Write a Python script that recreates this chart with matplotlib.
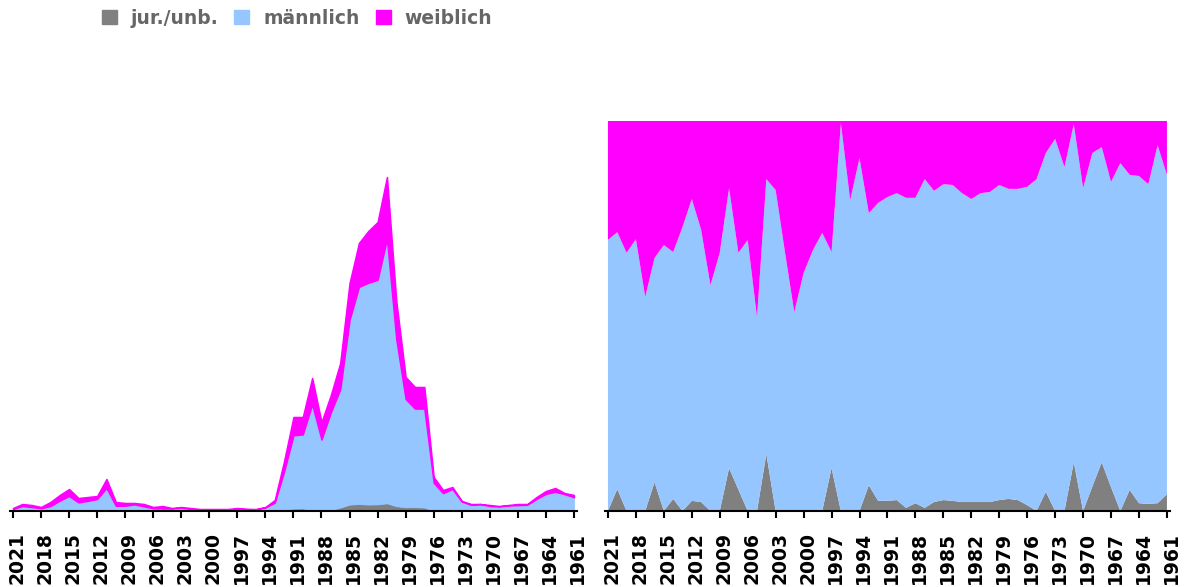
import matplotlib

matplotlib.use("Agg")
import matplotlib.pyplot as plt  # noqa: E402
import matplotlib.transforms as mtransforms  # noqa: E402
from matplotlib.patches import Patch  # noqa: E402
import numpy as np  # noqa: E402

# years run from newest to oldest, left to right
years = list(range(2021, 1960, -1))

# total per year (left chart, arbitrary units)
total = [3, 7, 6, 4, 9, 16, 22, 13, 14, 15,
         32, 9, 8, 8, 7, 4, 5, 3, 4, 3,
         2, 2, 2, 2, 3, 2, 2, 4, 11, 50,
         94, 94, 133, 89, 116, 148, 228, 268, 280, 289,
         334, 210, 134, 124, 124, 34, 21, 24, 10, 7,
         7, 6, 5, 6, 7, 7, 14, 20, 23, 18,
         16]

# shares in percent (right chart)
jur_pct = [0, 5.6, 0, 0, 0, 7.4, 0, 3.1, 0, 2.6,
           2.3, 0, 0, 11.0, 5.5, 0, 0, 14.6, 0, 0,
           0, 0, 0, 0, 11.0, 0, 0, 0, 6.6, 2.6,
           2.6, 2.8, 0.8, 2.0, 0.8, 2.3, 2.8, 2.6, 2.3, 2.3,
           2.3, 2.3, 2.8, 3.1, 2.8, 1.5, 0, 4.9, 0, 0,
           12.5, 0, 6.3, 12.5, 6.1, 0, 5.4, 2.0, 1.8, 2.0,
           4.3]
male_pct = [69.5, 65.9, 66.2, 69.7, 54.9, 57.5, 68.2, 63.3, 72.8, 77.4,
            69.8, 57.9, 66.2, 71.8, 60.7, 69.5, 49.7, 70.5, 82.3, 66.4,
            51.0, 61.0, 66.9, 71.3, 55.4, 99.5, 79.7, 90.5, 69.8, 76.4,
            77.9, 78.7, 79.5, 78.3, 84.3, 79.8, 81.0, 81.0, 79.2, 77.7,
            79.2, 79.5, 80.8, 79.5, 79.8, 81.6, 85.1, 86.9, 95.4, 88.2,
            86.7, 82.8, 85.5, 80.8, 78.3, 89.2, 80.8, 83.9, 82.0, 91.8,
            81.9]
female_pct = [30.5, 28.5, 33.8, 30.3, 45.1, 35.1, 31.8, 33.6, 27.2, 20.0,
              27.9, 42.1, 33.8, 17.2, 33.8, 30.5, 50.3, 14.9, 17.7, 33.6,
              49.0, 39.0, 33.1, 28.7, 33.6, 0.5, 20.3, 9.5, 23.6, 21.0,
              19.5, 18.5, 19.7, 19.7, 14.9, 17.9, 16.2, 16.4, 18.5, 20.0,
              18.5, 18.2, 16.4, 17.4, 17.4, 16.9, 14.9, 8.2, 4.6, 11.8,
              0.8, 17.2, 8.2, 6.7, 15.6, 10.8, 13.8, 14.1, 16.2, 6.2,
              13.8]

labels = ["jur./unb.", "männlich", "weiblich"]
colors = ["#808080", "#95c6ff", "#ff00ff"]

x = np.arange(len(years))
tot = np.array(total, dtype=float)
jur = tot * np.array(jur_pct) / 100
male = tot * np.array(male_pct) / 100
female = tot * np.array(female_pct) / 100

W, H = 1194, 587
fig = plt.figure(figsize=(W / 100, H / 100), dpi=100)
# 0.35 units of x margin each side
ax1 = fig.add_axes([9.7 / W, 76 / H, 567.5 / W, 390 / H])
ax2 = fig.add_axes([604.7 / W, 76 / H, 565.5 / W, 390 / H])

polys = ax1.stackplot(x, jur, male, female, colors=colors)
for p, c in zip(polys, colors):
    p.set_edgecolor(c)
    p.set_linewidth(1.1 if c == "#ff00ff" else 0.6)
ax1.set_ylim(0, 390)
ax2.stackplot(x, jur_pct, male_pct, female_pct, colors=colors, linewidth=0)
ax2.set_ylim(0, 100)

offset = mtransforms.ScaledTranslation(4 / 100, 0, fig.dpi_scale_trans)
for ax in (ax1, ax2):
    ax.set_xlim(-0.35, len(years) - 0.65)
    for s in ("left", "right", "top"):
        ax.spines[s].set_visible(False)
    ax.spines["bottom"].set_linewidth(1.5)
    ax.spines["bottom"].set_zorder(5)
    ax.set_yticks([])
    ax.set_xticks(x[::3])
    ax.set_xticklabels([str(y) for y in years[::3]], rotation=90,
                       fontsize=13.5, fontweight="bold")
    ax.tick_params(axis="x", length=5, width=1.5, pad=10)
    for lbl in ax.get_xticklabels():
        lbl.set_transform(lbl.get_transform() + offset)

handles = [Patch(facecolor=c, edgecolor=c) for c in colors]
leg = fig.legend(handles, labels, loc="center", bbox_to_anchor=(297 / W, 1 - 18 / H),
                 ncol=3, frameon=False, fontsize=13.5, handlelength=0.8,
                 handleheight=0.8, handletextpad=0.75, columnspacing=0.85)
for t in leg.get_texts():
    t.set_color("#666666")
    t.set_fontweight("bold")

fig.savefig("out.png", dpi=100)
